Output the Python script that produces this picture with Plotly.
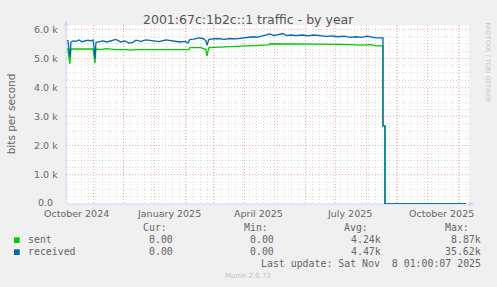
import plotly.graph_objects as go
import pandas as pd

# ---------------- data ----------------
received_dates = [
    "2024-10-05", "2024-10-06", "2024-10-07", "2024-10-08", "2024-10-09", "2024-10-11",
    "2024-10-14", "2024-10-17", "2024-10-20", "2024-10-23", "2024-10-26", "2024-10-29",
    "2024-10-31", "2024-11-01", "2024-11-02", "2024-11-03", "2024-11-06", "2024-11-10",
    "2024-11-14", "2024-11-18", "2024-11-23", "2024-11-28", "2024-12-02", "2024-12-06",
    "2024-12-10", "2024-12-13", "2024-12-18", "2024-12-23", "2024-12-30", "2025-01-05",
    "2025-01-12", "2025-01-19", "2025-01-26", "2025-01-31", "2025-02-03", "2025-02-05",
    "2025-02-09", "2025-02-14", "2025-02-18", "2025-02-21", "2025-02-22", "2025-02-24",
    "2025-02-28", "2025-03-05", "2025-03-11", "2025-03-17", "2025-03-23", "2025-03-29",
    "2025-04-04", "2025-04-09", "2025-04-14", "2025-04-19", "2025-04-22", "2025-04-26",
    "2025-04-30", "2025-05-04", "2025-05-09", "2025-05-12", "2025-05-17", "2025-05-22",
    "2025-05-28", "2025-06-03", "2025-06-09", "2025-06-15", "2025-06-21", "2025-06-27",
    "2025-07-03", "2025-07-09", "2025-07-15", "2025-07-21", "2025-07-27", "2025-08-01",
    "2025-08-06", "2025-08-10", "2025-08-14", "2025-08-17", "2025-08-17", "2025-08-19",
    "2025-08-19", "2025-11-08",
]
received_values = [
    5620, 5600, 5300, 5050, 5550, 5600,
    5580, 5630, 5570, 5600, 5620, 5600,
    5630, 5400, 5000, 5550, 5570, 5600,
    5560, 5600, 5650, 5560, 5600, 5520,
    5550, 5620, 5580, 5630, 5600, 5570,
    5630, 5600, 5560, 5580, 5530, 5650,
    5660, 5700, 5680, 5600, 5450, 5650,
    5660, 5680, 5650, 5680, 5670, 5700,
    5720, 5740, 5730, 5780, 5800, 5840,
    5780, 5800, 5850, 5780, 5800, 5780,
    5800, 5770, 5800, 5780, 5750, 5770,
    5740, 5760, 5720, 5740, 5720, 5760,
    5720, 5700, 5700, 5700, 2680, 2680,
    0, 0,
]

sent_dates = [
    "2024-10-05", "2024-10-06", "2024-10-07", "2024-10-08", "2024-10-09", "2024-10-14",
    "2024-10-24", "2024-10-31", "2024-11-01", "2024-11-02", "2024-11-03", "2024-11-08",
    "2024-11-13", "2024-11-23", "2024-12-03", "2024-12-08", "2024-12-13", "2024-12-23",
    "2025-01-02", "2025-01-12", "2025-01-22", "2025-02-01", "2025-02-04", "2025-02-05",
    "2025-02-16", "2025-02-21", "2025-02-22", "2025-02-24", "2025-03-03", "2025-03-13",
    "2025-03-23", "2025-04-02", "2025-04-12", "2025-04-22", "2025-04-25", "2025-04-26",
    "2025-05-07", "2025-05-22", "2025-06-06", "2025-06-16", "2025-06-26", "2025-07-06",
    "2025-07-16", "2025-07-26", "2025-08-05", "2025-08-10", "2025-08-17", "2025-08-17",
    "2025-08-19", "2025-08-19", "2025-11-08",
]
sent_values = [
    5320, 5320, 5000, 4820, 5320, 5320,
    5330, 5320, 5100, 4830, 5320, 5300,
    5330, 5300, 5300, 5280, 5300, 5300,
    5300, 5310, 5300, 5300, 5300, 5370,
    5370, 5300, 5080, 5370, 5380, 5380,
    5400, 5420, 5430, 5450, 5460, 5500,
    5500, 5500, 5500, 5480, 5500, 5480,
    5470, 5450, 5470, 5430, 5430, 2680,
    2680, 0, 0,
]

y_tick_values = [0, 1000, 2000, 3000, 4000, 5000, 6000]
y_tick_labels = ["0.0", "1.0 k", "2.0 k", "3.0 k", "4.0 k", "5.0 k", "6.0 k"]
x_tick_dates = ["2024-10-15", "2025-01-15", "2025-04-15", "2025-07-15", "2025-10-15"]
x_tick_labels = ["October 2024", "January 2025", "April 2025", "July 2025", "October 2025"]

legend_names = ["sent", "received"]
legend_colors = ["#00CC00", "#0066B3"]
stat_headers = ["Cur:", "Min:", "Avg:", "Max:"]
stat_sent = ["0.00", "0.00", "4.24k", "8.87k"]
stat_received = ["0.00", "0.00", "4.47k", "35.62k"]

title = "2001:67c:1b2c::1 traffic - by year"
y_title = "bits per second"
last_update = "Last update: Sat Nov  8 01:00:07 2025"
footer = "Munin 2.0.73"
side_text = "RRDTOOL / TOBI OETIKER"

# ---------------- layout geometry ----------------
W, H = 497, 287
PL, PR, PT, PB = 66, 469, 25, 204   # plot area in pixels
X_START = "2024-10-04 01:00"
X_END = "2025-11-11 01:00"
Y_MAX = 6000 * (PB - PT) / (PB - 29.17)


def px(x):
    return (x - PL) / (PR - PL)


def py(y):
    return (PB - y) / (PB - PT)


FONT = "DejaVu Sans"
MONO = "DejaVu Sans Mono"
FC = "#666666"
AXIS = "#CFD6F8"

fig = go.Figure()
fig.add_trace(go.Scatter(x=sent_dates, y=sent_values, mode="lines",
                         line=dict(color=legend_colors[0], width=1.3),
                         hoverinfo="skip", name=legend_names[0]))
fig.add_trace(go.Scatter(x=received_dates, y=received_values, mode="lines",
                         line=dict(color=legend_colors[1], width=1.3),
                         hoverinfo="skip", name=legend_names[1]))

month_lines = [d.strftime("%Y-%m-%d") for d in pd.date_range("2024-11-01", "2025-11-01", freq="MS")]
WEEK_MS = 7 * 24 * 3600 * 1000

RED = "rgba(235,110,110,0.55)"
GRAY = "rgba(160,160,160,0.35)"
DASH = "1px,2px"

fig.update_layout(
    width=W, height=H,
    margin=dict(l=PL, r=W - PR, t=PT, b=H - PB, pad=0),
    paper_bgcolor="#F0F0F0", plot_bgcolor="#FFFFFF",
    showlegend=False, hovermode=False,
    font=dict(family=FONT, color=FC, size=10),
    xaxis=dict(type="date", range=[X_START, X_END], showticklabels=False,
               tickmode="array", tickvals=month_lines, ticks="",
               showgrid=True, gridcolor=RED, griddash=DASH, gridwidth=1,
               zeroline=False, showline=False, fixedrange=True,
               minor=dict(tickmode="linear", tick0="2024-10-06", dtick=WEEK_MS, showgrid=True,
                          gridcolor=GRAY, griddash=DASH, gridwidth=1, ticks="")),
    yaxis=dict(range=[0, Y_MAX], showticklabels=False, tickmode="linear",
               tick0=0, dtick=1000, ticks="",
               showgrid=True, gridcolor=RED, griddash=DASH, gridwidth=1,
               zeroline=False, showline=False, fixedrange=True,
               minor=dict(tick0=0, dtick=250, showgrid=True, gridcolor=GRAY,
                          griddash=DASH, gridwidth=1, ticks="")),
)

ann = []
# title
ann.append(dict(text=title, x=px(248.3), y=py(19.5), xanchor="center", yanchor="middle",
                font=dict(size=12.5, color="#555555")))
# y tick labels
for v, t in zip(y_tick_values, y_tick_labels):
    right = 54 if v == 0 else 59.3
    ann.append(dict(text=t, x=px(right), y=py(PB - (PB - 29.17) * v / 6000 - (1.2 if v == 0 else 0)),
                    xanchor="right", yanchor="middle", font=dict(size=9.5)))
# x tick labels
for d, t in zip(x_tick_dates, x_tick_labels):
    ann.append(dict(text=t, x=d, xref="x", y=py(213.4), xanchor="center", yanchor="middle",
                    font=dict(size=9.5)))
# y axis title
ann.append(dict(text=y_title, x=px(11), y=py(113.3), textangle=-90,
                xanchor="center", yanchor="middle", font=dict(size=10.5)))
# side text
ann.append(dict(text=side_text, x=px(487.5), y=py(62), textangle=90,
                xanchor="center", yanchor="middle", font=dict(size=6.2, color="#C8C8C8")))
# legend
head_right = [168, 269, 369, 470]
val_right = [174.3, 275.3, 381.7, 482.3]
for h, xr in zip(stat_headers, head_right):
    ann.append(dict(text=h, x=px(xr), y=py(227.7), xanchor="right", yanchor="middle",
                    font=dict(family=MONO, size=9.9)))
for row_y, name, stats in [(239.7, legend_names[0], stat_sent),
                           (251.7, legend_names[1], stat_received)]:
    ann.append(dict(text=name, x=px(26.7), y=py(row_y), xanchor="left", yanchor="middle",
                    font=dict(family=MONO, size=9.9)))
    for s, xr in zip(stats, val_right):
        ann.append(dict(text=s, x=px(xr), y=py(row_y), xanchor="right", yanchor="middle",
                        font=dict(family=MONO, size=9.9)))
ann.append(dict(text=last_update.replace(" ", "&nbsp;"), x=px(482.3), y=py(263.3),
                xanchor="right", yanchor="middle", font=dict(family=MONO, size=9.9)))
ann.append(dict(text=footer, x=px(248), y=py(276), xanchor="center", yanchor="middle",
                font=dict(size=7, color="#C0C0C0")))
for a in ann:
    a.setdefault("xref", "paper")
    a.setdefault("yref", "paper")
    a["showarrow"] = False
    a["borderpad"] = 0
fig.update_layout(annotations=ann)

shapes = []
# legend color squares
for c, y0 in zip(legend_colors, [237.3, 249.3]):
    shapes.append(dict(type="rect", xref="paper", yref="paper",
                       x0=px(14), x1=px(19.7), y0=py(y0), y1=py(y0 + 5.7),
                       fillcolor=c, line=dict(width=0)))
# axes with arrows
shapes.append(dict(type="line", xref="paper", yref="paper", x0=px(66), x1=px(66),
                   y0=py(204), y1=py(23), line=dict(color=AXIS, width=1)))
shapes.append(dict(type="line", xref="paper", yref="paper", x0=px(66), x1=px(471),
                   y0=py(204), y1=py(204), line=dict(color=AXIS, width=1)))
shapes.append(dict(type="path", xref="paper", yref="paper",
                   path=f"M {px(63.5)} {py(25.5)} L {px(68.5)} {py(25.5)} L {px(66)} {py(20.5)} Z",
                   fillcolor=AXIS, line=dict(width=0)))
shapes.append(dict(type="path", xref="paper", yref="paper",
                   path=f"M {px(469)} {py(201.5)} L {px(469)} {py(206.5)} L {px(474)} {py(204)} Z",
                   fillcolor=AXIS, line=dict(width=0)))
for s in shapes:
    s["layer"] = "below" if s["type"] == "line" else "above"
fig.update_layout(shapes=shapes)

fig.write_html("out.html", config={"displayModeBar": False, "staticPlot": True})
